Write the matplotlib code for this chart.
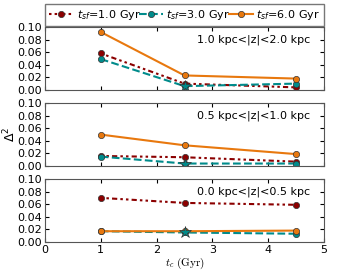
import numpy as np
import matplotlib
matplotlib.use("Agg")
import matplotlib.pyplot as plt

tc = [1.0, 2.5, 4.5]
labels = ["1.0 kpc<|z|<2.0 kpc", "0.5 kpc<|z|<1.0 kpc", "0.0 kpc<|z|<0.5 kpc"]

# Delta^2 per panel (top -> bottom)
d_tsf1 = [[0.058, 0.010, 0.004], [0.016, 0.014, 0.007], [0.070, 0.062, 0.059]]
d_tsf3 = [[0.049, 0.006, 0.010], [0.015, 0.004, 0.004], [0.017, 0.015, 0.013]]
d_tsf6 = [[0.092, 0.023, 0.018], [0.050, 0.033, 0.019], [0.017, 0.017, 0.018]]
star_x = 2.5
star_y = [0.006, 0.003, 0.016]

c_red = "#8b0000"
c_teal = "#008b8b"
c_orange = "#e8780e"

plt.rcParams["font.size"] = 8
plt.rcParams["mathtext.fontset"] = "dejavusans"

fig = plt.figure(figsize=(3.6, 2.7), dpi=100)
bottoms = [0.667, 0.385, 0.104]
h = 0.233
axes = []
for i in range(3):
    ax = fig.add_axes([0.125, bottoms[i], 0.775, h])
    axes.append(ax)
    l1, = ax.plot(tc, d_tsf1[i], color=c_red, ls=(0, (1.2, 1.5, 1.2, 1.5, 2.5, 1.5)), lw=1.5,
                  marker="o", ms=4.5, mec="#333333", mew=0.5, label=r"$t_{sf}$=1.0 Gyr")
    l2, = ax.plot(tc, d_tsf3[i], color=c_teal, ls="--", lw=1.5,
                  marker="o", ms=4.5, mec="#333333", mew=0.5, label=r"$t_{sf}$=3.0 Gyr")
    l3, = ax.plot(tc, d_tsf6[i], color=c_orange, ls="-", lw=1.5,
                  marker="o", ms=4.5, mec="#333333", mew=0.5, label=r"$t_{sf}$=6.0 Gyr")
    ax.plot([star_x], [star_y[i]], marker="*", ms=9, color=c_teal, mec="#333333", mew=0.5, ls="none")
    ax.set_xlim(0, 5)
    ax.set_ylim(0, 0.1)
    ax.set_yticks(np.arange(0, 0.101, 0.02))
    ax.set_xticks([0, 1, 2, 3, 4, 5])
    ax.tick_params(direction="in", top=True, right=True, length=3, labelsize=8, pad=2)
    ax.text(0.95, 0.88, labels[i], transform=ax.transAxes, ha="right", va="top", fontsize=8)
    for s in ax.spines.values():
        s.set_color("#555555")
    if i < 2:
        ax.set_xticklabels([])

axes[1].set_ylabel(r"$\Delta^2$", fontsize=9)
axes[1].yaxis.set_label_coords(-0.095, 0.5)
axes[2].set_xlabel(r"$t_c\ \mathrm{(Gyr)}$", fontsize=8, labelpad=1, math_fontfamily="cm")

axes[0].legend(handles=[l1, l2, l3], loc="lower left", bbox_to_anchor=(0, 1.02, 1, 0.2),
               ncol=3, mode="expand", borderaxespad=0, fontsize=8, handlelength=2.2,
               handletextpad=0.3, columnspacing=0.5, fancybox=False, edgecolor="#555555",
               borderpad=0.35)

fig.savefig("out.png", dpi=100)
